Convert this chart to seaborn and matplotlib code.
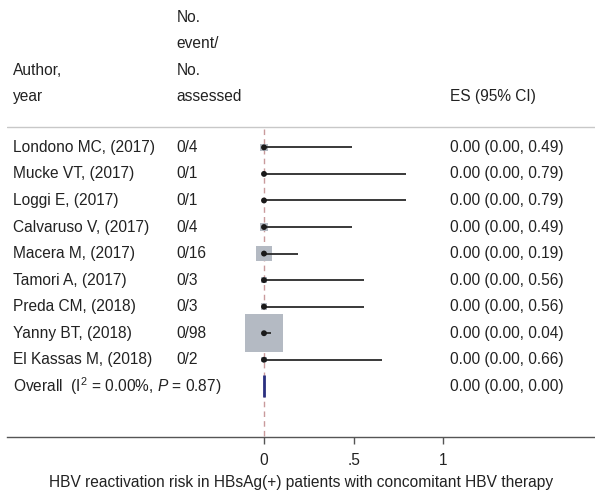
import matplotlib
matplotlib.use("Agg")
import matplotlib.pyplot as plt
import matplotlib.transforms as mtransforms
import seaborn as sns
import pandas as pd

# study data
authors = ["Londono MC, (2017)", "Mucke VT, (2017)", "Loggi E, (2017)",
           "Calvaruso V, (2017)", "Macera M, (2017)", "Tamori A, (2017)",
           "Preda CM, (2018)", "Yanny BT, (2018)", "El Kassas M, (2018)"]
events = [0, 0, 0, 0, 0, 0, 0, 0, 0]
assessed = [4, 1, 1, 4, 16, 3, 3, 98, 2]
es = [0.00, 0.00, 0.00, 0.00, 0.00, 0.00, 0.00, 0.00, 0.00]
ci_low = [0.00, 0.00, 0.00, 0.00, 0.00, 0.00, 0.00, 0.00, 0.00]
ci_high = [0.49, 0.79, 0.79, 0.49, 0.19, 0.56, 0.56, 0.04, 0.66]

overall_label = "Overall  (I$^2$ = 0.00%, $\\it{P}$ = 0.87)"
overall_es, overall_low, overall_high = 0.00, 0.00, 0.00

x_ticks = [0, 0.5, 1]
x_ticklabels = ["0", ".5", "1"]
x_label = "HBV reactivation risk in HBsAg(+) patients with concomitant HBV therapy"

sns.set_theme(style="white")
plt.rcParams["font.family"] = ["Liberation Sans", "DejaVu Sans"]
plt.rcParams["mathtext.fontset"] = "custom"
plt.rcParams["mathtext.rm"] = "Liberation Sans"
plt.rcParams["mathtext.it"] = "Liberation Sans:italic"

TXT = "#222222"
FS = 11.2

df = pd.DataFrame({"author": authors, "n": assessed, "es": es,
                   "lo": ci_low, "hi": ci_high})
df["row"] = range(1, len(df) + 1)
overall_row = len(df) + 1

fig = plt.figure(figsize=(5.95, 4.91), dpi=100)
ax = fig.add_axes([7 / 595, 1 - 437.3 / 491, 588 / 595, 437.3 / 491])

# weight boxes, area proportional to number assessed
sns.scatterplot(data=df, x="es", y="row", size="n", sizes=(7.5 * 1, 7.5 * 98),
                marker="s", color="#b4bac3", edgecolor="none", legend=False,
                ax=ax, zorder=2)
ax.hlines(df["row"], df["lo"], df["hi"], color="#2a2a2a", lw=1.3, zorder=3)
sns.scatterplot(data=df, x="es", y="row", color="#1a1a1a", s=18,
                edgecolor="none", legend=False, ax=ax, zorder=4)

# overall estimate (CI collapses to a line)
ax.vlines(overall_es, overall_row - 0.41, overall_row + 0.41,
          color="#2b3080", lw=2.0, zorder=4)

# null line
ax.vlines(0, 0.31, 11.92, color="#c99a9c", lw=1.0, linestyles=(0, (4, 3)),
          zorder=1)

# header separator
ax.axhline(0.224, color="#c8c8c8", lw=1.0)

ax.set_xlim(-(264 - 7) / 179.3, (595 - 264) / 179.3)
ax.set_ylim(11.92, -4.55)
for s in ["left", "top", "right"]:
    ax.spines[s].set_visible(False)
ax.spines["bottom"].set_color("#555555")
ax.spines["bottom"].set_linewidth(1.0)
ax.set_yticks([])
ax.set_xticks(x_ticks)
ax.set_xticklabels(x_ticklabels, fontsize=FS, color=TXT)
ax.tick_params(axis="x", direction="out", length=5, width=1.0,
               color="#555555", pad=6.5, bottom=True)
ax.set_xlabel(x_label, fontsize=FS, color=TXT, labelpad=5)
ax.set_ylabel("")

# text columns: x in figure fraction, y in data rows
tr = mtransforms.blended_transform_factory(fig.transFigure, ax.transData)
col_author = 13.3 / 595
col_n = 176.7 / 595
col_es = 450 / 595

headers_n = ["No.", "event/", "No.", "assessed"]
for i, h in enumerate(headers_n):
    ax.text(col_n, -3.9 + i, h, transform=tr, fontsize=FS, color=TXT, va="center")
ax.text(col_author, -1.9, "Author,", transform=tr, fontsize=FS, color=TXT, va="center")
ax.text(col_author, -0.9, "year", transform=tr, fontsize=FS, color=TXT, va="center")
ax.text(col_es, -0.9, "ES (95% CI)", transform=tr, fontsize=FS, color=TXT, va="center")

for _, r in df.iterrows():
    ev = events[int(r["row"]) - 1]
    ax.text(col_author, r["row"], r["author"], transform=tr, fontsize=FS,
            color=TXT, va="center")
    ax.text(col_n, r["row"], f"{ev}/{int(r['n'])}", transform=tr, fontsize=FS,
            color=TXT, va="center")
    ax.text(col_es, r["row"], f"{r['es']:.2f} ({r['lo']:.2f}, {r['hi']:.2f})",
            transform=tr, fontsize=FS, color=TXT, va="center")

ax.text(col_author, overall_row, overall_label, transform=tr, fontsize=FS,
        color=TXT, va="center")
ax.text(col_es, overall_row,
        f"{overall_es:.2f} ({overall_low:.2f}, {overall_high:.2f})",
        transform=tr, fontsize=FS, color=TXT, va="center")

fig.savefig("out.png", dpi=100)
